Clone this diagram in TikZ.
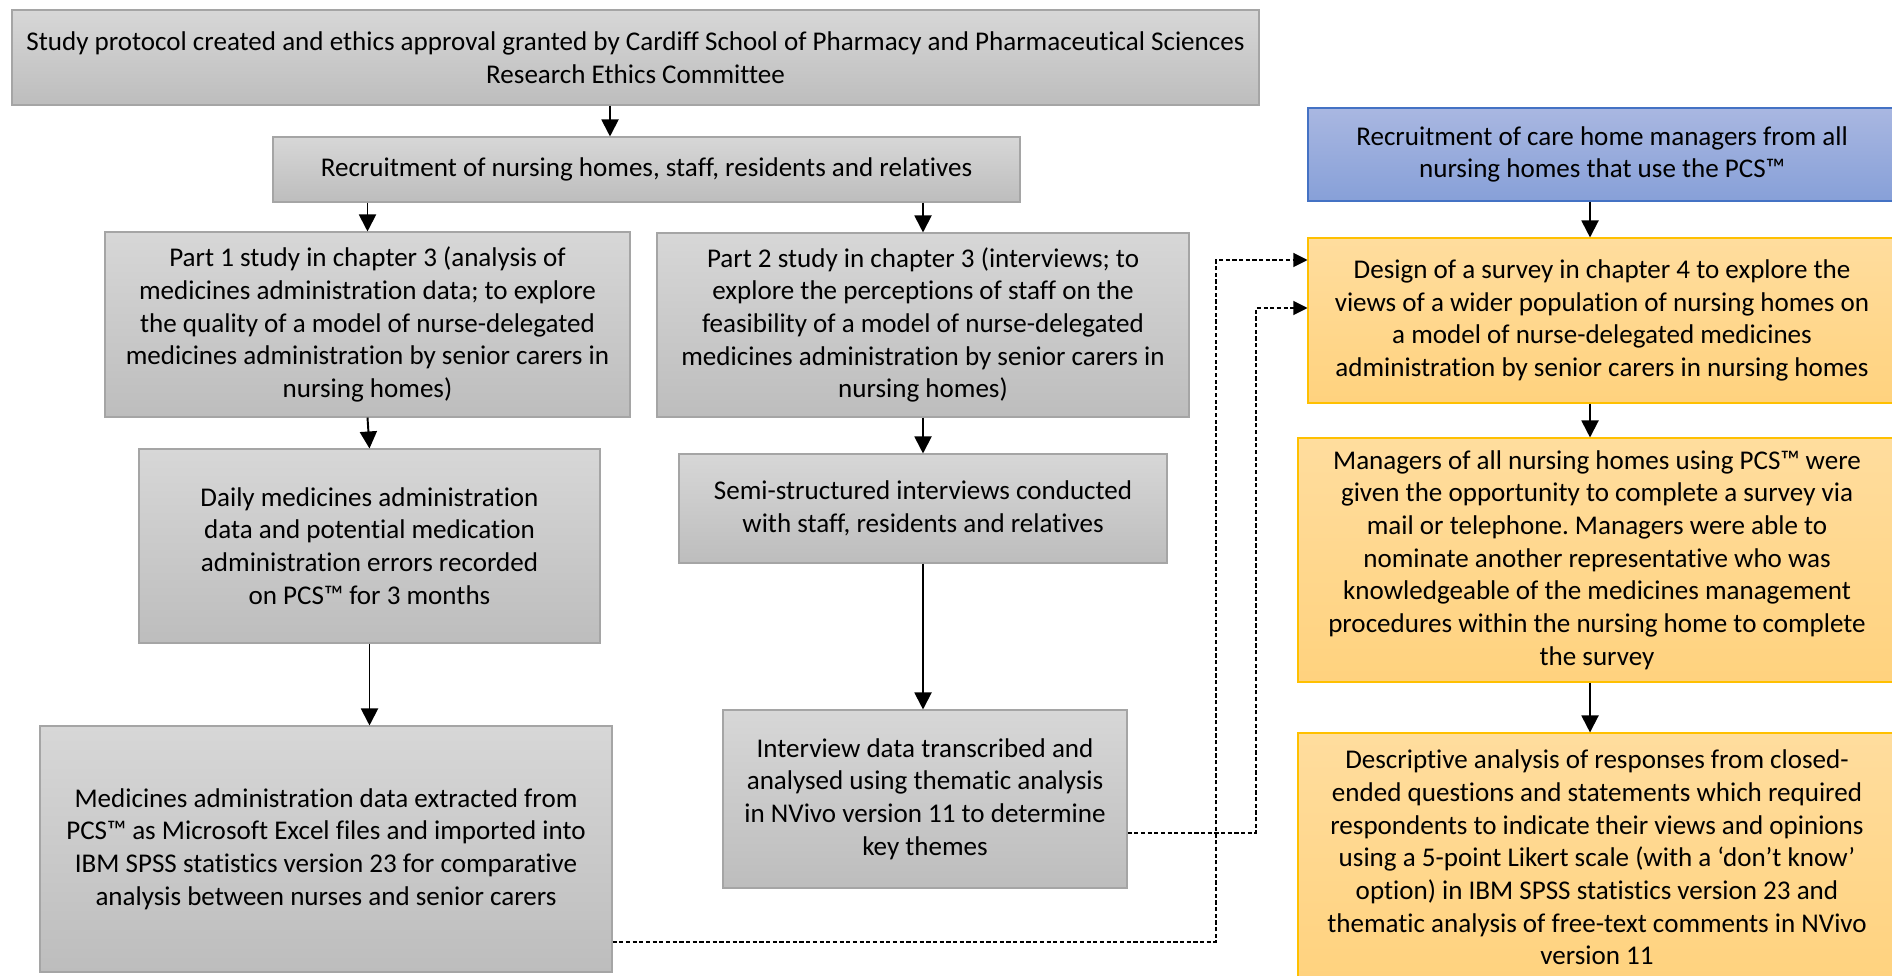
\documentclass[tikz,border=0pt]{standalone}
\usepackage{fontspec}
\setmainfont[Ligatures=NoCommon]{Carlito}
\usepackage{tikz}
\usetikzlibrary{arrows.meta,positioning,calc}

\definecolor{greytop}{HTML}{D7D7D7}
\definecolor{greybot}{HTML}{BDBDBD}
\definecolor{greyline}{HTML}{A5A5A5}
\definecolor{bluetop}{HTML}{A9B7E1}
\definecolor{bluebot}{HTML}{87A0D8}
\definecolor{blueline}{HTML}{4472C4}
\definecolor{orangetop}{HTML}{FFDD9E}
\definecolor{orangebot}{HTML}{FFD27E}
\definecolor{orangeline}{HTML}{FFC000}

\tikzset{
    boxsize/.style 2 args={minimum width=#1*0.02cm, minimum height=#2*0.02cm},
    base/.style={align=center, inner sep=0pt, line width=0.6pt,
        font=\fontsize{15.4}{18.6}\selectfont},
    greybox/.style={base, draw=greyline, top color=greytop, bottom color=greybot},
    bluebox/.style={base, draw=blueline, top color=bluetop, bottom color=bluebot},
    orangebox/.style={base, draw=orangeline, top color=orangetop, bottom color=orangebot},
    arr/.style={line width=1.1pt, -{Triangle[length=0.34cm,width=0.34cm]}},
    link/.style={line width=0.6pt, dash pattern=on 2.4pt off 1.4pt,
        -{Triangle[length=0.28cm,width=0.28cm]}},
}

\begin{document}
\frenchspacing
\begin{tikzpicture}[x=0.02cm, y=-0.02cm]

    \useasboundingbox (0,0) rectangle (1892,976);

    % left part: nursing home studies
    \node[greybox, boxsize={1247}{95}] (protocol) at (635.5,57.5)
        {Study protocol created and ethics approval granted by Cardiff School of Pharmacy and Pharmaceutical Sciences\\Research Ethics Committee};
    \node[greybox, boxsize={747}{65}] (recruit) at (646.5,169.5)
        {Recruitment of nursing homes, staff, residents and relatives};
    \node[greybox, boxsize={525}{185}] (part1) at (367.5,324.5)
        {Part 1 study in chapter 3 (analysis of\\medicines administration data; to explore\\the quality of a model of nurse-delegated\\medicines administration by senior carers in\\nursing homes)};
    \node[greybox, boxsize={532}{184}] (part2) at (923,325)
        {Part 2 study in chapter 3 (interviews; to\\explore the perceptions of staff on the\\feasibility of a model of nurse-delegated\\medicines administration by senior carers in\\nursing homes)};
    \node[greybox, boxsize={461}{194}] (daily) at (369.5,546)
        {Daily medicines administration\\data and potential medication\\administration errors recorded\\on PCS™ for 3 months};
    \node[greybox, boxsize={572}{246}] (extract) at (326,849)
        {Medicines administration data extracted from\\PCS™ as Microsoft Excel files and imported into\\IBM SPSS statistics version 23 for comparative\\analysis between nurses and senior carers};
    \node[greybox, boxsize={488}{109}] (semi) at (923,508.5)
        {Semi-structured interviews conducted\\with staff, residents and relatives};
    \node[greybox, boxsize={404}{178}] (thematic) at (925,799)
        {Interview data transcribed and\\analysed using thematic analysis\\in NVivo version 11 to determine\\key themes};

    % right part: survey
    \node[bluebox, boxsize={588}{93}] (managers) at (1602,154.5)
        {Recruitment of care home managers from all\\nursing homes that use the PCS™};
    \node[orangebox, boxsize={588}{165}] (design) at (1602,320.5)
        {Design of a survey in chapter 4 to explore the\\views of a wider population of nursing homes on\\a model of nurse-delegated medicines\\administration by senior carers in nursing homes};
    \node[orangebox, boxsize={598}{244}] (survey) at (1597,560)
        {Managers of all nursing homes using PCS™ were\\given the opportunity to complete a survey via\\mail or telephone. Managers were able to\\nominate another representative who was\\knowledgeable of the medicines management\\procedures within the nursing home to complete\\the survey};
    \node[orangebox, boxsize={598}{249}] (descr) at (1597,857.5)
        {Descriptive analysis of responses from closed-\\ended questions and statements which required\\respondents to indicate their views and opinions\\using a 5-point Likert scale (with a ‘don’t know’\\option) in IBM SPSS statistics version 23 and\\thematic analysis of free-text comments in NVivo\\version 11};

    % arrows
    \coordinate (topcol) at (610,0);
    \coordinate (rightcol) at (1590,0);
    \draw[arr] (topcol |- protocol.south) -- (topcol |- recruit.north);
    \draw[arr] (part1.north |- recruit.south) -- (part1.north);
    \draw[arr] (part2.north |- recruit.south) -- (part2.north);
    \draw[arr] (part1.south) -- (daily.north);
    \draw[arr] (daily.south) -- (daily.south |- extract.north);
    \draw[arr] (part2.south) -- (semi.north);
    \draw[arr] (semi.south) -- (semi.south |- thematic.north);
    \draw[arr] (rightcol |- managers.south) -- (rightcol |- design.north);
    \draw[arr] (rightcol |- design.south) -- (rightcol |- survey.north);
    \draw[arr] (rightcol |- survey.south) -- (rightcol |- descr.north);

    % dotted links into the survey design
    \coordinate (bend1) at (1216,942);
    \coordinate (bend2) at (1216,260);
    \coordinate (bend3) at (1256,833);
    \coordinate (bend4) at (1256,308);
    \draw[link] (extract.east |- bend1) -- (bend1) -- (bend2) -- (design.west |- bend2);
    \draw[link] (thematic.east |- bend3) -- (bend3) -- (bend4) -- (design.west |- bend4);

\end{tikzpicture}
\end{document}
